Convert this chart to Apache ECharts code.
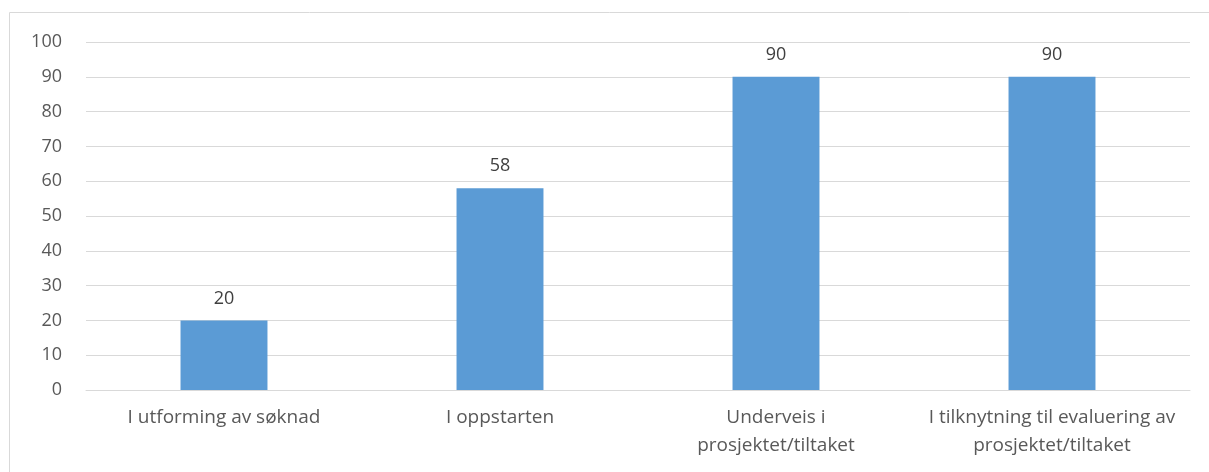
<!DOCTYPE html>
<html><head><meta charset="utf-8">
<script src="https://cdn.jsdelivr.net/npm/echarts@6/dist/echarts.min.js"></script>
<style>html,body{margin:0;padding:0;background:#fff}#c{width:1209px;height:472px}</style>
</head><body><div id="c"></div>
<script>
const categories = ["I utforming av søknad", "I oppstarten", "Underveis i\nprosjektet/tiltaket", "I tilknytning til evaluering av\nprosjektet/tiltaket"];
const values = [20, 58, 90, 90];
const yMin = 0, yMax = 100, yStep = 10;

const chart = echarts.init(document.getElementById('c'), null, {renderer: 'canvas'});
const font = '"Open Sans", Lato, sans-serif';
chart.setOption({
  animation: false,
  graphic: [{type: 'rect', shape: {x: 9.5, y: 12.5, width: 1400, height: 700}, style: {fill: 'none', stroke: '#d9d9d9', lineWidth: 1}, silent: true}],
  grid: {left: 86, right: 19, top: 42, bottom: 82},
  xAxis: {
    type: 'category', data: categories,
    axisLine: {lineStyle: {color: '#d9d9d9', width: 1}},
    axisTick: {show: false},
    axisLabel: {color: '#595959', fontSize: 19, fontFamily: font, margin: 14, lineHeight: 28, interval: 0}
  },
  yAxis: {
    type: 'value', min: yMin, max: yMax, interval: yStep,
    axisLine: {show: false}, axisTick: {show: false},
    splitLine: {lineStyle: {color: '#d9d9d9', width: 1}},
    axisLabel: {color: '#595959', fontSize: 18, fontFamily: font, margin: 24}
  },
  series: [{
    type: 'bar', data: values, barWidth: '31.5%',
    itemStyle: {color: '#5b9bd5'},
    label: {show: true, position: 'top', distance: 13, color: '#404040', fontSize: 18, fontFamily: font}
  }]
});
</script></body></html>
